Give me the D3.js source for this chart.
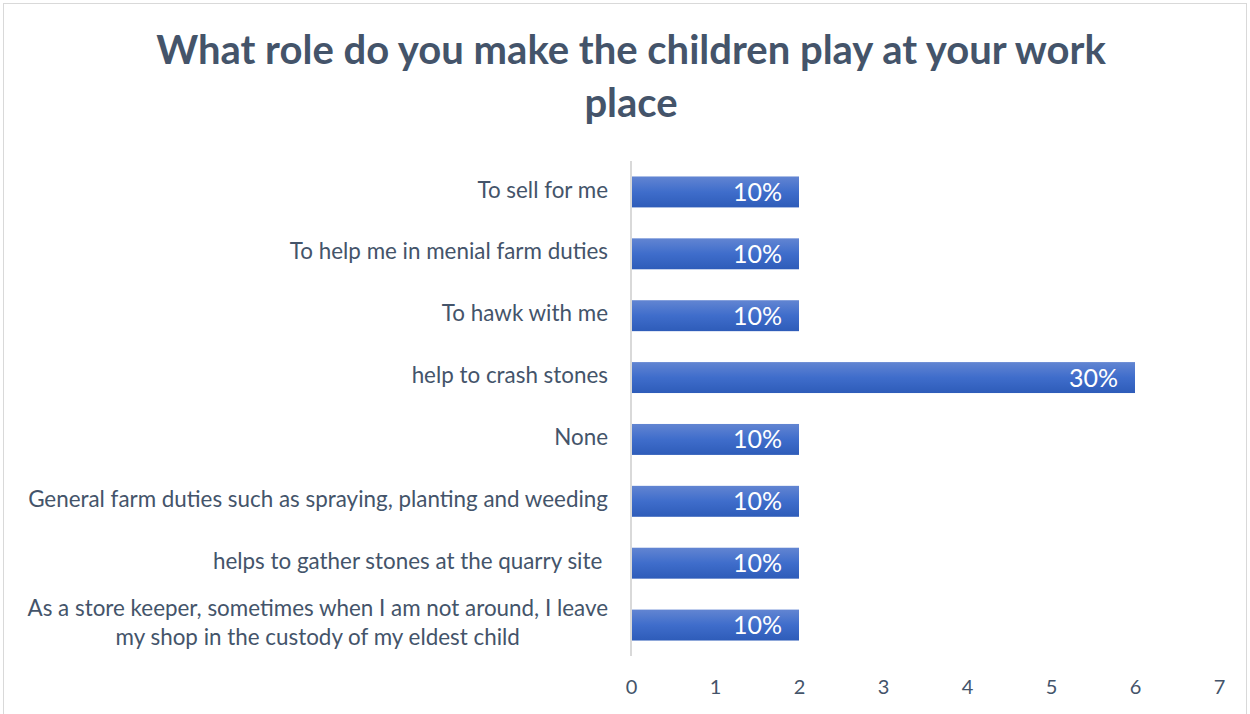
<!DOCTYPE html>
<html>
<head>
<meta charset="utf-8">
<script src="https://cdn.jsdelivr.net/npm/d3@7"></script>
<style>
  html, body { margin: 0; padding: 0; background: #fff; }
  svg text { font-family: Lato, "Open Sans", sans-serif; }
</style>
</head>
<body>
<svg id="chart" width="1250" height="714"></svg>
<script>
// Survey responses: number of respondents per role, with the share shown on each bar
const categories = [
  "To sell for me",
  "To help me in menial farm duties",
  "To hawk with me",
  "help to crash stones",
  "None",
  "General farm duties such as spraying, planting and weeding",
  "helps to gather stones at the quarry site ",
  "As a store keeper, sometimes when I am not around, I leave|my shop in the custody of my eldest child"
];
const counts = [2, 2, 2, 6, 2, 2, 2, 2];
const shareLabels = ["10%", "10%", "10%", "30%", "10%", "10%", "10%", "10%"];
const xTicks = [0, 1, 2, 3, 4, 5, 6, 7];
const titleLines = ["What role do you make the children play at your work", "place"];

const svg = d3.select("#chart");

// chart border
svg.append("rect")
  .attr("x", 3.5).attr("y", 3.5)
  .attr("width", 1243).attr("height", 715)
  .attr("fill", "#fff").attr("stroke", "#d9d9d9").attr("stroke-width", 1);

// gradient fill for bars
const grad = svg.append("defs").append("linearGradient")
  .attr("id", "barFill").attr("x1", 0).attr("y1", 0).attr("x2", 0).attr("y2", 1);
grad.append("stop").attr("offset", "0%").attr("stop-color", "#6285d2");
grad.append("stop").attr("offset", "50%").attr("stop-color", "#3f6dcb");
grad.append("stop").attr("offset", "100%").attr("stop-color", "#2e5cb9");

// title
svg.append("g").selectAll("text").data(titleLines).join("text")
  .attr("x", 631).attr("y", (d, i) => 64 + i * 53)
  .attr("text-anchor", "middle")
  .attr("font-size", 40).attr("font-weight", 700)
  .attr("fill", "#44546a")
  .text(d => d);

const x = d3.scaleLinear().domain([0, 7]).range([631, 1219]);
const y = d3.scaleBand().domain(categories).range([161, 656])
  .paddingInner(0.5).paddingOuter(0.25);

// x-axis tick labels (no line, no ticks)
const xAxis = svg.append("g")
  .attr("transform", "translate(0,656)")
  .call(d3.axisBottom(x).tickValues(xTicks).tickFormat(d3.format("d"))
    .tickSize(0).tickPadding(24));
xAxis.select(".domain").remove();
xAxis.selectAll("text")
  .attr("font-size", 20).attr("fill", "#44546a")
  .style("font-family", "Lato, 'Open Sans', sans-serif");

// bars
svg.append("g").selectAll("rect").data(categories).join("rect")
  .attr("x", x(0))
  .attr("y", d => y(d))
  .attr("width", (d, i) => x(counts[i]) - x(0))
  .attr("height", y.bandwidth())
  .attr("fill", "url(#barFill)");

// vertical category axis line
svg.append("line")
  .attr("x1", x(0)).attr("x2", x(0))
  .attr("y1", 161).attr("y2", 656)
  .attr("stroke", "#d9d9d9").attr("stroke-width", 2);

// value labels inside bar ends
svg.append("g").selectAll("text").data(categories).join("text")
  .attr("x", (d, i) => x(counts[i]) - 17)
  .attr("y", d => y(d) + y.bandwidth() / 2)
  .attr("dy", "0.36em")
  .attr("text-anchor", "end")
  .attr("font-size", 25).attr("fill", "#fff")
  .text((d, i) => shareLabels[i]);

// category labels, right aligned; multi-line labels centred as a block
const labelRight = 608;
const labelG = svg.append("g");
categories.forEach(c => {
  const lines = c.split("|");
  const cy = y(c) + y.bandwidth() / 2 - 2;
  const lh = 29;
  const t = labelG.append("text")
    .attr("font-size", 22.4).attr("fill", "#44546a")
    .style("white-space", "pre");
  lines.forEach((ln, i) => {
    t.append("tspan").text(ln)
      .attr("y", cy + (i - (lines.length - 1) / 2) * lh)
      .attr("dy", "0.34em");
  });
  if (lines.length === 1) {
    t.attr("text-anchor", "end");
    t.selectAll("tspan").attr("x", labelRight);
  } else {
    let w = 0;
    t.selectAll("tspan").each(function () { w = Math.max(w, this.getComputedTextLength()); });
    t.attr("text-anchor", "middle");
    t.selectAll("tspan").attr("x", labelRight - w / 2);
  }
});
</script>
</body>
</html>
